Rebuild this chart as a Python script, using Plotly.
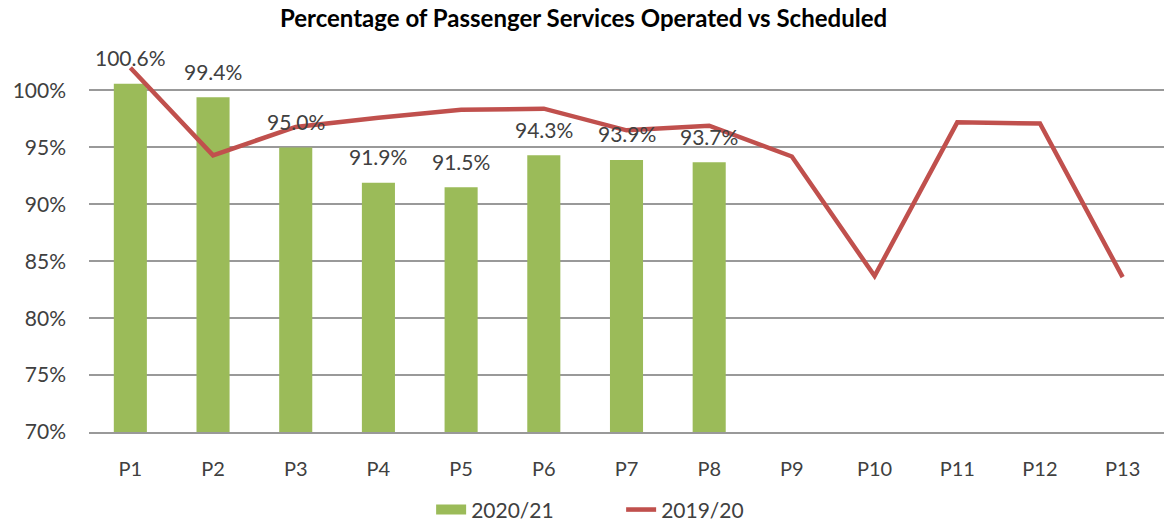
import plotly.graph_objects as go

periods = ["P1", "P2", "P3", "P4", "P5", "P6", "P7", "P8", "P9", "P10", "P11", "P12", "P13"]
pct_2020_21 = [100.6, 99.4, 95.0, 91.9, 91.5, 94.3, 93.9, 93.7]
pct_2019_20 = [102.0, 94.3, 96.8, 97.6, 98.3, 98.4, 96.5, 96.9, 94.2, 83.7, 97.2, 97.1, 83.6]
y_ticks = [70, 75, 80, 85, 90, 95, 100]

GREEN = "#9BBB59"
RED = "#C0504D"
TEXT = "#404040"
FONT = "Lato"

fig = go.Figure()

fig.add_trace(go.Bar(
    x=periods[:len(pct_2020_21)], y=pct_2020_21,
    marker=dict(color=GREEN, line=dict(width=0)),
    width=0.4, showlegend=False, name="2020/21",
))

fig.add_trace(go.Scatter(
    x=periods, y=pct_2019_20, mode="lines",
    line=dict(color=RED, width=4.5), name="2019/20", showlegend=False,
))

# legend entries (wide swatches)
fig.add_trace(go.Scatter(x=[None], y=[None], mode="lines",
                         line=dict(color=GREEN, width=14), name="2020/21"))
fig.add_trace(go.Scatter(x=[None], y=[None], mode="lines",
                         line=dict(color=RED, width=4.5), name="2019/20"))

# value labels above the 2020/21 bars
for p, v in zip(periods, pct_2020_21):
    fig.add_annotation(x=p, y=v, text=f"{v:.1f}%", showarrow=False,
                       yanchor="middle", yshift=26,
                       font=dict(family=FONT, size=21, color=TEXT))

fig.update_layout(
    width=1167, height=523,
    margin=dict(l=89, r=3, t=62, b=91, autoexpand=False),
    paper_bgcolor="white", plot_bgcolor="white",
    font=dict(family=FONT, size=20, color=TEXT),
    title=dict(text="<b>Percentage of Passenger Services Operated vs Scheduled</b>",
               x=0.5, xanchor="center", y=0.965, yanchor="middle",
               font=dict(family=FONT, size=24, color="#000000")),
    legend=dict(orientation="h", x=0.495, xanchor="center",
                yref="container", y=0.025, yanchor="middle",
                font=dict(family=FONT, size=21, color=TEXT),
                entrywidth=145, tracegroupgap=0),
    bargap=0.6,
)

fig.update_xaxes(
    categoryorder="array", categoryarray=periods, range=[-0.5, 12.5],
    showgrid=False, showline=True, linecolor="#999999", linewidth=2,
    ticks="", ticklabelstandoff=18, tickfont=dict(family=FONT, size=20, color=TEXT),
)
fig.update_yaxes(
    range=[70, 102.5], tickvals=y_ticks, ticktext=[f"{t}%" for t in y_ticks],
    showgrid=True, gridcolor="#999999", gridwidth=2, zeroline=False,
    showline=False, ticks="", ticklabelstandoff=22,
    tickfont=dict(family=FONT, size=21, color=TEXT),
)

fig.write_html("out.html")
